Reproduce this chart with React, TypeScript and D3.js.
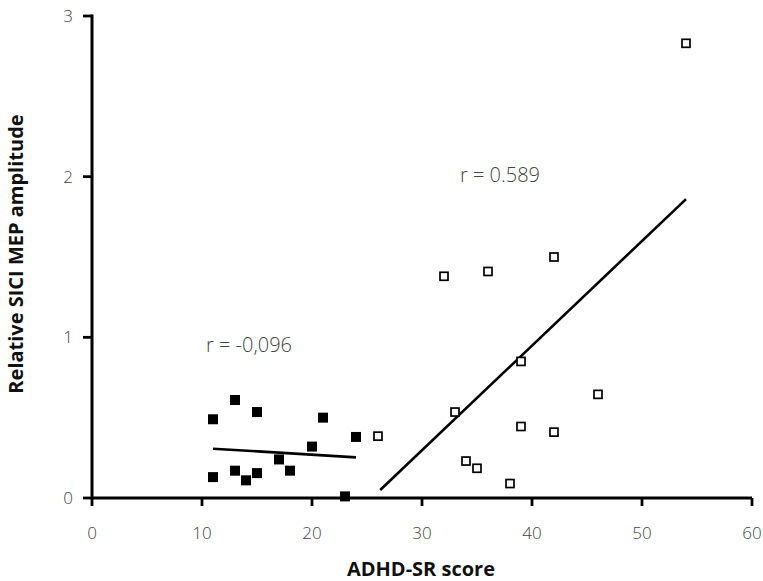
import React from "react";
import * as d3 from "d3";

const lowScores = [11, 13, 15, 21, 24, 20, 17, 13, 18, 15, 11, 14, 23];
const lowAmps = [0.49, 0.61, 0.535, 0.5, 0.38, 0.32, 0.24, 0.17, 0.17, 0.155, 0.13, 0.11, 0.01];
const highScores = [26, 32, 36, 42, 39, 33, 46, 39, 42, 34, 35, 38, 54];
const highAmps = [0.385, 1.38, 1.41, 1.5, 0.85, 0.535, 0.645, 0.445, 0.41, 0.23, 0.185, 0.09, 2.83];
const lowFit = [[11, 0.307], [24, 0.253]];
const highFit = [[26.2, 0.05], [54, 1.86]];
const xTicks = [0, 10, 20, 30, 40, 50, 60];
const yTicks = [0, 1, 2, 3];
const lowLabel = "r = -0,096";
const highLabel = "r = 0.589";
const xTitle = "ADHD-SR score";
const yTitle = "Relative SICI MEP amplitude";

export default function App() {
  const x = d3.scaleLinear().domain([0, 60]).range([92, 752]);
  const y = d3.scaleLinear().domain([0, 3]).range([498, 16]);
  const line = d3.line<number[]>().x(d => x(d[0])).y(d => y(d[1]));
  const font = "'Open Sans', sans-serif";
  const txt = "#444";
  return (
    <svg width={763} height={581} style={{ position: "absolute", left: 0, top: 0, background: "#fff" }}>
      {/* axes */}
      <line x1={x(0)} x2={x(60)} y1={y(0)} y2={y(0)} stroke="#000" strokeWidth={3} />
      <line x1={x(0)} x2={x(0)} y1={y(0)} y2={y(3) - 1.5} stroke="#000" strokeWidth={3} />
      {xTicks.map(t => (
        <g key={"xt" + t}>
          <line x1={x(t)} x2={x(t)} y1={y(0)} y2={y(0) + 8} stroke="#000" strokeWidth={2.8} />
          <text x={x(t)} y={y(0) + 41} textAnchor="middle" fontFamily={font} fontWeight={300} fontSize={17} fill={txt}>{t}</text>
        </g>
      ))}
      {yTicks.map(t => (
        <g key={"yt" + t}>
          <line x1={x(0) - 9} x2={x(0)} y1={y(t)} y2={y(t)} stroke="#000" strokeWidth={2.8} />
          <text x={x(0) - 19} y={y(t) + 6} textAnchor="end" fontFamily={font} fontWeight={300} fontSize={17} fill={txt}>{t}</text>
        </g>
      ))}
      {/* fits */}
      <path d={line(lowFit) || ""} stroke="#000" strokeWidth={2.6} fill="none" />
      <path d={line(highFit) || ""} stroke="#000" strokeWidth={2.6} fill="none" />
      {/* points */}
      {lowScores.map((s, i) => (
        <rect key={"l" + i} x={x(s) - 5} y={y(lowAmps[i]) - 5} width={10} height={10} fill="#000" />
      ))}
      {highScores.map((s, i) => (
        <rect key={"h" + i} x={x(s) - 4} y={y(highAmps[i]) - 4} width={8} height={8} fill="#fff" stroke="#000" strokeWidth={1.7} />
      ))}
      <text x={206} y={352} fontFamily={font} fontWeight={300} fontSize={20} fill={txt}>{lowLabel}</text>
      <text x={460} y={182} fontFamily={font} fontWeight={300} fontSize={20} fill={txt}>{highLabel}</text>
      <text x={421} y={576} textAnchor="middle" fontFamily={font} fontWeight={700} fontSize={20} fill="#111">{xTitle}</text>
      <text transform={`translate(23,254) rotate(-90)`} textAnchor="middle" fontFamily={font} fontWeight={700} fontSize={20} fill="#111">{yTitle}</text>
    </svg>
  );
}
